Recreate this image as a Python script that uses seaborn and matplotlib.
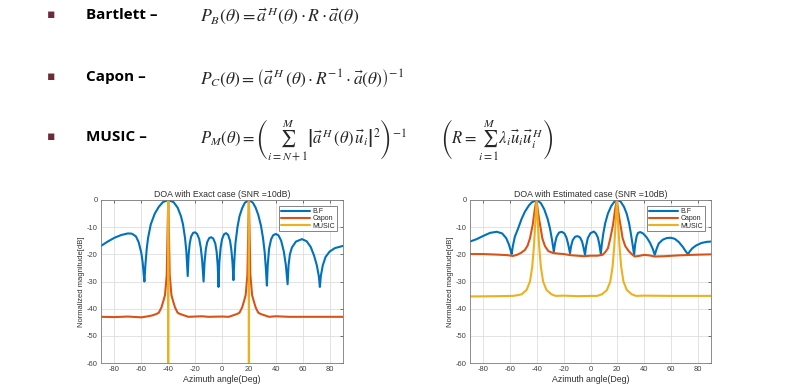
import matplotlib
matplotlib.use("Agg")
import matplotlib.pyplot as plt
import seaborn as sns

# ---------------- data ----------------
series_names = ["B.F", "Capon", "MUSIC"]
x_ticks = [-80, -60, -40, -20, 0, 20, 40, 60, 80]
y_ticks = [0, -10, -20, -30, -40, -50, -60]

# Exact case
exact_bf_angle = [-90, -85, -80, -75, -70, -67, -64, -62, -60, -59, -58.3, -57.7,
                  -57, -56, -55, -53, -50, -47, -44, -40, -36, -33, -30.5, -29, -27.5, -26.5, -25.5,
                  -24.8, -24, -23, -21.5, -20, -18.5, -17, -15.8, -14.8, -13.7,
                  -13, -12, -11, -9.5, -8, -6.5, -5, -4, -3.2, -2.6,
                  -2, -1, 0, 1.5, 3, 4.5, 6, 7, 7.8, 8.5,
                  9.2, 10, 11.5, 13, 15, 17, 20, 23, 25, 27, 29, 30.5, 31.7, 32.6, 33.4,
                  34, 35, 36.5, 38, 40, 42, 44, 46, 47.5, 48.8,
                  49.5, 50.5, 52, 55, 59.5, 63, 66, 68.5, 70.5, 72, 72.8,
                  73.5, 75, 77, 80, 84, 90]
exact_bf_db = [-16.9, -15.3, -13.9, -12.9, -12.3, -12.4, -13.4, -15.5, -19.5, -23, -27, -30,
               -24, -18, -14, -9, -5, -2.5, -0.8, 0, -0.8, -2.8, -6, -9, -14, -19, -28,
               -20, -16, -13.5, -12.1, -11.9, -12.5, -14.3, -17.5, -22, -30,
               -23, -18, -15.5, -14, -13.7, -14.2, -16, -19, -24, -32,
               -23, -17.5, -14.5, -12.6, -12.2, -12.8, -15, -18.5, -23, -29.5,
               -22, -16, -10, -6, -3, -1, 0, -1, -2.8, -5.5, -9.5, -14, -19, -25, -31.5,
               -24, -18, -14.5, -13, -12.5, -13, -15, -19, -24, -31,
               -24, -20, -17.5, -15.3, -14.4, -15.2, -17.3, -20.5, -24, -28, -32,
               -28, -24, -21, -19, -17.7, -16.9]

exact_capon_angle = [-90, -80, -70, -60, -55, -52, -49, -47, -45, -43.5, -42.4, -41.1, -40.5, -40,
                     -39.5, -38.9, -37.6, -36.5, -35, -33, -31, -28, -25, -15, -10, 0, 5,
                     8, 11, 13, 15, 16.5, 17.6, 18.9, 19.5, 20,
                     20.5, 21.1, 22.4, 23.5, 25, 27, 29, 32, 35, 40, 50, 70, 90]
exact_capon_db = [-43, -43.1, -42.9, -43.2, -42.8, -42.5, -42, -41.5, -39.5, -37, -35, -27.6, -12, 0,
                  -12, -27.6, -35, -37, -39.5, -41.5, -42, -42.5, -43, -42.8, -43, -42.9, -43,
                  -42.5, -42, -41.5, -39.5, -37, -35, -27.6, -12, 0,
                  -12, -27.6, -35, -37, -39.5, -41.5, -42, -42.5, -43, -42.8, -43, -43, -43]

exact_music_angle = [-90, -40.15, -40, -39.85, 19.85, 20, 20.15, 90]
exact_music_db = [-80, -80, 0, -80, -80, 0, -80, -80]

# Estimated case
est_bf_angle = [-90, -85, -80, -75, -70, -66, -63, -61, -59.8, -58.9,
                -58, -56.5, -54, -51.5, -49, -46, -44, -40, -37, -34.5, -32, -30.3, -28.8, -27.4,
                -26.5, -25.3, -23.5, -21.5, -19.5, -18, -16.8, -15.3,
                -14.5, -13.3, -11.5, -9.6, -7.8, -6.3, -5.2, -4.1,
                -3.3, -2, 0, 2.5, 4, 5.5, 6.6, 7.7,
                8.4, 9.5, 11, 13, 15.5, 18, 20, 22.5, 25, 27, 28.8, 30.2, 31.4, 32.6,
                33.3, 34.5, 35.5, 37.2, 39.5, 42, 44.5, 46.5, 48,
                49.5, 51, 54, 57, 60, 63, 66, 69, 71, 72.8,
                74, 76, 79, 83, 87, 90]
est_bf_db = [-15.3, -14.4, -13.2, -12.1, -11.7, -12.3, -14, -16.3, -18.3, -19.9,
             -17, -13.5, -10.4, -7, -4.3, -2, -0.9, 0, -1.2, -3.5, -7, -10.4, -14.5, -19,
             -16, -13.5, -12, -11.7, -12.3, -13.8, -16, -19.6,
             -17, -14.8, -13.5, -13.3, -13.8, -15.3, -17.5, -20.2,
             -17, -14, -12.2, -11.6, -12.3, -13.8, -16.3, -19.9,
             -16.5, -12.5, -8.5, -5, -2.2, -0.5, 0, -0.6, -2.5, -5, -8.5, -12.5, -16.3, -20.2,
             -16.5, -13.3, -12.1, -11.8, -12.4, -13.8, -15.8, -18, -20.2,
             -17.8, -16, -14.6, -14, -13.9, -14.3, -15.5, -17.3, -18.8, -20,
             -19, -17.8, -16.7, -15.8, -15.4, -15.3]

est_capon_angle = [-90, -80, -70, -62, -58, -55, -52, -49, -47, -45.2, -43.2, -41.5, -40.3,
                   -39.3, -38.5, -37, -36, -34, -31.5, -28, -25, -20, -15, -10, -5, 0, 5,
                   9, 11, 13, 14.8, 16.8, 18.5, 19.7,
                   20.7, 21.5, 23, 24, 26, 28.5, 31, 33, 36, 40, 44, 48, 55, 65, 75, 90]
est_capon_db = [-19.9, -19.9, -20.1, -20.3, -20.6, -20.2, -19.5, -18.4, -16.8, -14.1, -9.2, -3.1, 0,
                -4, -6.7, -11, -14.1, -17, -18.8, -19.5, -19.7, -19.9, -20.3, -20.5, -20.7, -20.5, -20.5,
                -20.2, -19.2, -17.8, -14.1, -9.2, -3.1, 0,
                -4, -6.7, -11, -14.1, -17, -18.8, -20, -20.8, -20.6, -20.2, -20.4, -20.8, -20.7, -20.4, -20.2, -20]

est_music_angle = [-90, -70, -58, -54, -51.4, -47.7, -45.2, -43.5, -42.2, -41.2, -40.3,
                   -39.4, -38.4, -37.1, -35.4, -32.9, -29.2, -26, -20, -10, 0,
                   5, 8.6, 12.3, 14.8, 16.5, 17.8, 18.8, 19.7,
                   20.6, 21.6, 22.9, 24.6, 27.1, 30.8, 34, 40, 60, 90]
est_music_db = [-35.5, -35.4, -35.3, -35, -34.7, -33.1, -30, -24.5, -16.6, -8, 0,
                -8, -16.6, -24.5, -30, -33.1, -34.7, -35.3, -35.2, -35.4, -35.3,
                -35.3, -34.7, -33.1, -30, -24.5, -16.6, -8, 0,
                -8, -16.6, -24.5, -30, -33.1, -34.7, -35.3, -35.2, -35.3, -35.3]

titles = ["DOA with Exact case (SNR =10dB)", "DOA with Estimated case (SNR =10dB)"]
x_label = "Azimuth angle(Deg)"
y_label = "Normalized magnitude[dB]"

bullet_labels = ["Bartlett \u2013", "Capon \u2013", "MUSIC \u2013"]
eq_bartlett = r"$P_B(\theta)=\vec{a}^{\,H}(\theta)\cdot R\cdot\vec{a}(\theta)$"
eq_capon = r"$P_C(\theta)=\left(\vec{a}^{\,H}\,(\theta)\cdot R^{-1}\cdot\vec{a}(\theta)\right)^{-1}$"
eq_music = r"$P_M(\theta)=\left(\sum_{i=N+1}^{M}\left|\vec{a}^{\,H}\,(\theta)\,\vec{u}_i\right|^2\right)^{-1}$"
eq_r = r"$\left(R=\sum_{i=1}^{M}\lambda_i\vec{u}_i\vec{u}_i^{\,H}\right)$"

# ---------------- style ----------------
sns.set_style("white")
plt.rcParams["font.family"] = ["Liberation Sans", "DejaVu Sans"]
plt.rcParams["mathtext.fontset"] = "stix"
plt.rcParams["axes.unicode_minus"] = False

colors = ["#0072BD", "#D95319", "#EDB120"]

fig = plt.figure(figsize=(8.0, 3.87), dpi=100)
fig.patch.set_facecolor("white")

W, H = 800.0, 387.0

# bullets and equations
bullet_y = [15, 77, 137]
for yb, lab in zip(bullet_y, bullet_labels):
    fig.text(51 / W, 1 - yb / H, "\u25AA", color="#6d2b3a", fontsize=9,
             ha="center", va="center", family=["DejaVu Sans"])
    fig.text(86 / W, 1 - yb / H, lab, fontsize=11, fontweight="bold",
             ha="left", va="center", family=["Open Sans", "DejaVu Sans"], color="black")

fig.text(200 / W, 1 - 16 / H, eq_bartlett, fontsize=12.8, ha="left", va="center")
fig.text(200 / W, 1 - 78 / H, eq_capon, fontsize=12.5, ha="left", va="center")
fig.text(200 / W, 1 - 140 / H, eq_music, fontsize=12, ha="left", va="center")
fig.text(440 / W, 1 - 140 / H, eq_r, fontsize=12, ha="left", va="center")

# axes
ax_specs = [(101, 242), (470, 241)]
data_sets = [
    [(exact_bf_angle, exact_bf_db), (exact_capon_angle, exact_capon_db), (exact_music_angle, exact_music_db)],
    [(est_bf_angle, est_bf_db), (est_capon_angle, est_capon_db), (est_music_angle, est_music_db)],
]
ax_top, ax_bot = 200, 363
for (left, width), ds, title in zip(ax_specs, data_sets, titles):
    ax = fig.add_axes([left / W, 1 - ax_bot / H, width / W, (ax_bot - ax_top) / H])
    ax.set_facecolor("white")
    for i in range(3):
        xa, ya = ds[i]
        sns.lineplot(x=xa, y=ya, ax=ax, color=colors[i], linewidth=1.5,
                     label=series_names[i], sort=False, estimator=None)
    ax.set_xlim(-90, 90)
    ax.set_ylim(-60, 0)
    ax.set_xticks(x_ticks)
    ax.set_yticks(y_ticks)
    ax.grid(True, color="#dedede", linewidth=0.6)
    ax.set_axisbelow(True)
    ax.tick_params(direction="in", length=2.5, width=0.5, colors="#404040",
                   labelsize=5.4, top=True, right=True, pad=2.5)
    for sp in ax.spines.values():
        sp.set_color("#7a7a7a")
        sp.set_linewidth(0.6)
    ax.set_title(title, fontsize=6.3, color="#303030", pad=2)
    ax.set_xlabel(x_label, fontsize=6.3, color="#303030", labelpad=1)
    ax.set_ylabel(y_label, fontsize=5.5, color="#303030", labelpad=1)
    leg = ax.legend(loc="upper right", fontsize=5, frameon=True, fancybox=False,
                    edgecolor="#555555", framealpha=1, handlelength=4.2,
                    handletextpad=0.3, labelspacing=0.05, borderpad=0.25,
                    borderaxespad=0.9)
    leg.get_frame().set_linewidth(0.5)

fig.savefig("out.png", dpi=100, facecolor="white")
